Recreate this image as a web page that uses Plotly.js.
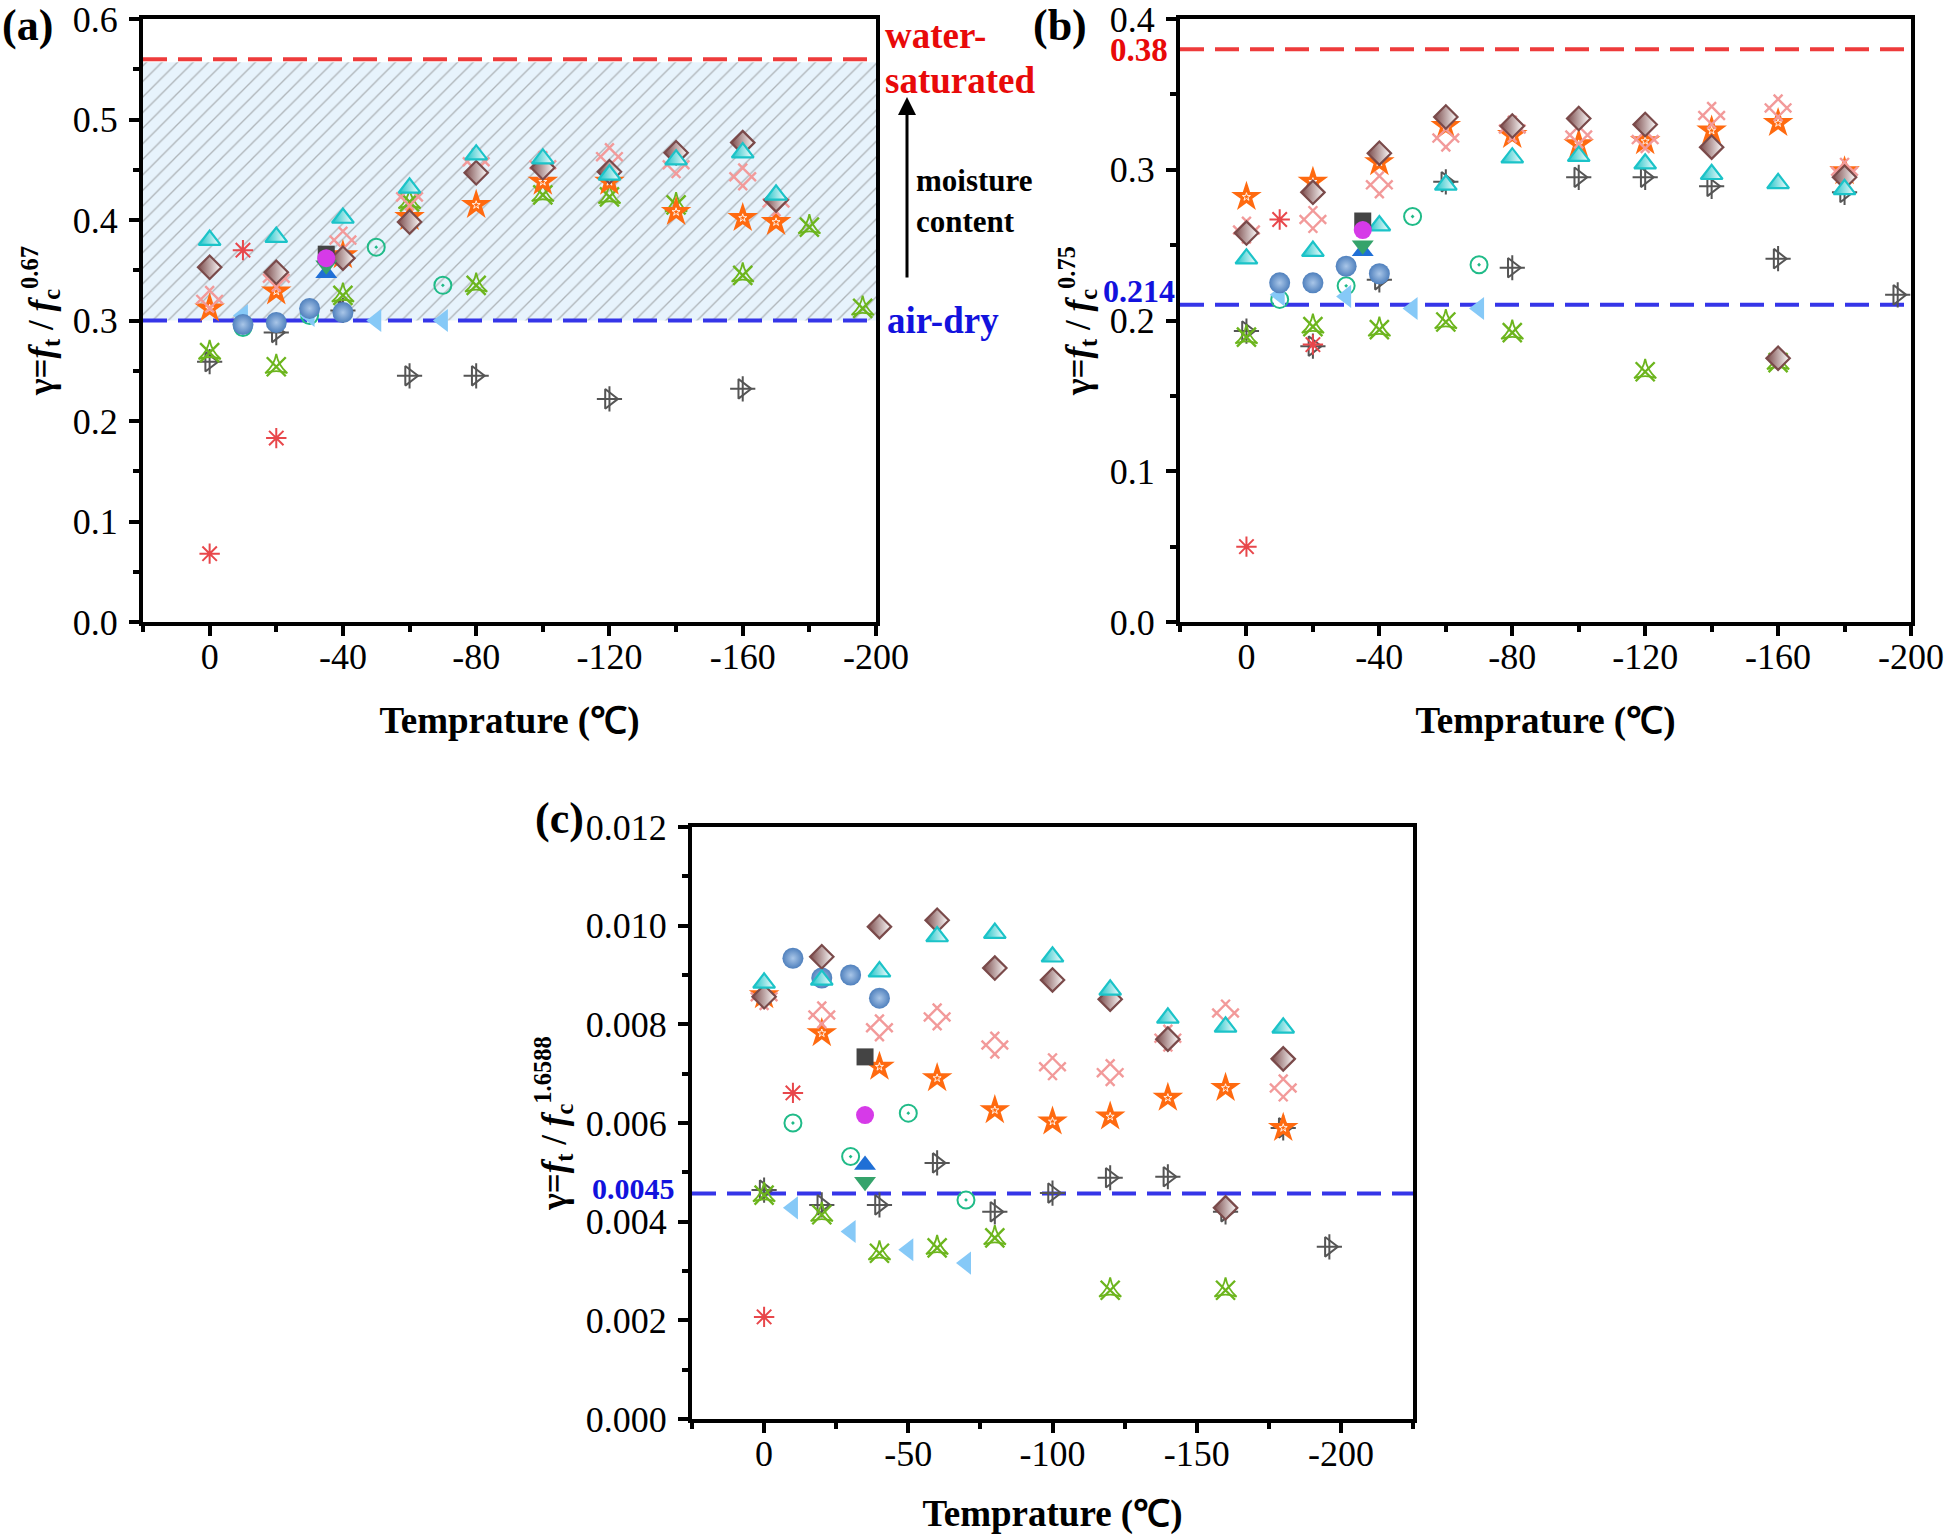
<!DOCTYPE html>
<html><head><meta charset="utf-8">
<script src="https://cdn.plot.ly/plotly-3.0.1.min.js"></script>
<style>html,body{margin:0;padding:0;background:#fff}</style>
</head><body><div id="chart" style="width:1945px;height:1535px"></div>
<script>
// ---------------- DATA ----------------
// Panel (a)  gamma = ft / fc^0.67
const a_redAst_x = [0, -10, -20];
const a_redAst_y = [0.068, 0.370, 0.183];
const a_main_x = [0, -20, -40, -60, -80, -100, -120, -140, -160, -170];
const a_cyanTri_y = [0.380, 0.383, 0.402, 0.432, 0.465, 0.461, 0.445, 0.460, 0.467, 0.425];
const a_brownDia_y = [0.353, 0.348, 0.362, 0.398, 0.447, 0.452, 0.448, 0.467, 0.477, 0.420];
const a_pinkHash_y = [0.321, 0.342, 0.380, 0.423, 0.458, 0.455, 0.463, 0.455, 0.443, 0.417];
const a_orangeStar_y = [0.312, 0.329, 0.365, 0.403, 0.415, 0.438, 0.438, 0.408, 0.402, 0.398];
const a_greenAst_x = [0, -20, -40, -60, -80, -100, -120, -140, -160, -180, -196];
const a_greenAst_y = [0.268, 0.254, 0.325, 0.418, 0.335, 0.425, 0.423, 0.415, 0.345, 0.393, 0.312];
const a_grayTri_x = [0, -20, -40, -60, -80, -120, -160];
const a_grayTri_y = [0.259, 0.288, 0.310, 0.245, 0.245, 0.222, 0.232];
const a_blueBall_x = [-10, -20, -30, -40];
const a_blueBall_y = [0.296, 0.298, 0.312, 0.308];
const a_lbTri_x = [-10, -30, -50, -70];
const a_lbTri_y = [0.305, 0.305, 0.300, 0.300];
const a_greenCirc_x = [-10, -30, -50, -70];
const a_greenCirc_y = [0.293, 0.305, 0.373, 0.335];
const a_single_x = [-35];
const a_darkSq_y = [0.366];
const a_magCirc_y = [0.362];
const a_greenTriDown_y = [0.355];
const a_blueTriUp_y = [0.347];
const a_waterSat = 0.56;
const a_airDry = 0.30;
const a_bandLow = 0.30, a_bandHigh = 0.557;

// Panel (b)  gamma = ft / fc^0.75
const b_redAst_x = [0, -10, -20];
const b_redAst_y = [0.050, 0.267, 0.184];
const b_main_x = [0, -20, -40, -60, -80, -100, -120, -140, -160, -180];
const b_cyanTri_y = [0.241, 0.246, 0.263, 0.290, 0.308, 0.309, 0.304, 0.297, 0.291, 0.287];
const b_brownDia_y = [0.258, 0.285, 0.311, 0.335, 0.329, 0.334, 0.330, 0.315, 0.175, 0.295];
const b_pinkHash_y = [0.260, 0.267, 0.290, 0.321, 0.327, 0.323, 0.320, 0.336, 0.341, 0.299];
const b_orangeStar_y = [0.282, 0.292, 0.305, 0.329, 0.323, 0.317, 0.319, 0.326, 0.331, 0.299];
const b_greenAst_x = [0, -20, -40, -60, -80, -120, -160];
const b_greenAst_y = [0.189, 0.196, 0.194, 0.199, 0.192, 0.166, 0.172];
const b_grayTri_x = [0, -20, -40, -60, -80, -100, -120, -140, -160, -180, -196];
const b_grayTri_y = [0.193, 0.183, 0.227, 0.292, 0.235, 0.295, 0.295, 0.289, 0.241, 0.285, 0.217];
const b_blueBall_x = [-10, -20, -30, -40];
const b_blueBall_y = [0.225, 0.225, 0.236, 0.231];
const b_lbTri_x = [-10, -30, -50, -70];
const b_lbTri_y = [0.217, 0.216, 0.208, 0.208];
const b_greenCirc_x = [-10, -30, -50, -70];
const b_greenCirc_y = [0.214, 0.223, 0.269, 0.237];
const b_single_x = [-35];
const b_darkSq_y = [0.266];
const b_magCirc_y = [0.260];
const b_greenTriDown_y = [0.250];
const b_blueTriUp_y = [0.246];
const b_upper = 0.38, b_upperLabel = '0.38';
const b_lower = 0.2105, b_lowerLabel = '0.214';

// Panel (c)  gamma = ft / fc^1.6588
const c_redAst_x = [0, -10];
const c_redAst_y = [0.00207, 0.00661];
const c_main_x = [0, -20, -40, -60, -80, -100, -120, -140, -160, -180];
const c_cyanTri_y = [0.00884, 0.00890, 0.00907, 0.00978, 0.00985, 0.00937, 0.00870, 0.00813, 0.00795, 0.00793];
const c_brownDia_y = [0.00856, 0.00937, 0.00998, 0.01011, 0.00914, 0.00890, 0.00851, 0.00770, 0.00428, 0.00730];
const c_pinkHash_y = [0.00856, 0.00819, 0.00793, 0.00815, 0.00758, 0.00714, 0.00702, 0.00772, 0.00823, 0.00671];
const c_orangeStar_y = [0.00859, 0.00782, 0.00714, 0.00691, 0.00626, 0.00603, 0.00613, 0.00651, 0.00671, 0.00590];
const c_greenAst_x = [0, -20, -40, -60, -80, -120, -160];
const c_greenAst_y = [0.00454, 0.00414, 0.00336, 0.00347, 0.00367, 0.00261, 0.00261];
const c_grayTri_x = [0, -20, -40, -60, -80, -100, -120, -140, -160, -180, -196];
const c_grayTri_y = [0.00464, 0.00434, 0.00434, 0.00519, 0.00420, 0.00458, 0.00489, 0.00491, 0.00420, 0.00590, 0.00349];
const c_blueBall_x = [-10, -20, -30, -40];
const c_blueBall_y = [0.00934, 0.00894, 0.00900, 0.00853];
const c_lbTri_x = [-10, -30, -50, -70];
const c_lbTri_y = [0.00428, 0.00380, 0.00343, 0.00316];
const c_greenCirc_x = [-10, -30, -50, -70];
const c_greenCirc_y = [0.00600, 0.00532, 0.00620, 0.00444];
const c_single_x = [-35];
const c_darkSq_y = [0.00734];
const c_magCirc_y = [0.00616];
const c_greenTriDown_y = [0.00481];
const c_blueTriUp_y = [0.00515];
const c_lower = 0.00457, c_lowerLabel = '0.0045';

// Axis ticks
const xTickVals_ab = [0, -40, -80, -120, -160, -200];
const xTickText_ab = ['0', '-40', '-80', '-120', '-160', '-200'];
const xTickVals_c = [0, -50, -100, -150, -200];
const xTickText_c = ['0', '-50', '-100', '-150', '-200'];
const xRange_ab = [20, -200];
const xRange_c = [25, -225];
const yRange_a = [0, 0.6];
const yRange_b = [0, 0.4];
const yRange_c = [0, 0.012];

// ---------------- STYLES ----------------
const FONT = 'Liberation Serif, Times New Roman, serif';
const W = 1945, H = 1535;
const px = v => v / W;
const py = v => 1 - v / H;

const ST = {
  grayTri: [
    {symbol: 'triangle-right-open', size: 17, color: '#555555', line: {color: '#555555', width: 2}},
    {symbol: 'cross-thin-open', size: 18, color: '#555555', line: {color: '#555555', width: 2}}
  ],
  greenAst: [
    {symbol: 'x-thin-open', size: 19, color: '#6cb51d', line: {color: '#6cb51d', width: 2.4}},
    {symbol: 'star-triangle-up-open', size: 16, color: '#6cb51d', line: {color: '#6cb51d', width: 1.8}}
  ],
  greenCirc: [
    {symbol: 'circle-open-dot', size: 17, color: '#20bb88', line: {color: '#20bb88', width: 2}}
  ],
  lbTri: [
    {symbol: 'triangle-left', size: 20, color: '#86c9f7', line: {width: 0}}
  ],
  blueBall: [
    {symbol: 'circle', size: 21, color: '#4f80bd', gradient: {type: 'radial', color: '#a9c6e8'}, line: {width: 0}}
  ],
  redAst: [
    {symbol: 'asterisk-open', size: 17, color: '#e8474b', line: {color: '#e8474b', width: 2}}
  ],
  orangeStar: [
    {symbol: 'star', size: 23, color: '#ff6a10', line: {width: 0}},
    {symbol: 'star-open', size: 6, color: '#ffffff', line: {color: '#ffffff', width: 0.9}}
  ],
  pinkHash: [
    {symbol: 'hash-open', angle: 45, size: 25, color: '#f29a9a', line: {color: '#f29a9a', width: 2.4}}
  ],
  brownDia: [
    {symbol: 'diamond', size: 18, color: '#7a4a4a', gradient: {type: 'horizontal', color: '#ffffff'}, line: {color: '#7a4a4a', width: 2.2}}
  ],
  cyanTri: [
    {symbol: 'triangle-up', size: 19, color: '#1bc3c8', gradient: {type: 'horizontal', color: '#ffffff'}, line: {color: '#1bc3c8', width: 2.2}}
  ],
  darkSq: [{symbol: 'square', size: 17, color: '#444444', line: {width: 0}}],
  magCirc: [{symbol: 'circle', size: 18, color: '#d63ae8', line: {width: 0}}],
  blueTriUp: [{symbol: 'triangle-up', size: 19, color: '#1f6fd6', line: {width: 0}}],
  greenTriDown: [{symbol: 'triangle-down', size: 19, color: '#35a36b', line: {width: 0}}]
};

const traces = [];
function series(xs, ys, sfx, key) {
  ST[key].forEach(m => {
    traces.push({type: 'scatter', mode: 'markers', x: xs, y: ys,
      xaxis: 'x' + sfx, yaxis: 'y' + sfx, marker: m, hoverinfo: 'skip',
      showlegend: false, cliponaxis: false});
  });
}
function hline(range, val, sfx, color) {
  traces.push({type: 'scatter', mode: 'lines', x: [range[0], range[1]], y: [val, val],
    xaxis: 'x' + sfx, yaxis: 'y' + sfx, line: {color: color, width: 4, dash: '24px,11px'},
    hoverinfo: 'skip', showlegend: false});
}

// Panel (a) shaded band
traces.push({type: 'scatter', mode: 'lines', xaxis: 'x', yaxis: 'y',
  x: [xRange_ab[0], xRange_ab[1], xRange_ab[1], xRange_ab[0], xRange_ab[0]],
  y: [a_bandLow, a_bandLow, a_bandHigh, a_bandHigh, a_bandLow],
  fill: 'toself', fillcolor: '#e7f3fc', line: {width: 0},
  fillpattern: {shape: '/', bgcolor: '#e7f3fc', fgcolor: '#aeb4b8', size: 11, solidity: 0.12},
  hoverinfo: 'skip', showlegend: false});
hline(xRange_ab, a_waterSat, '', '#ee3b3b');
hline(xRange_ab, a_airDry, '', '#3535e8');
hline(xRange_ab, b_upper, '2', '#ee3b3b');
hline(xRange_ab, b_lower, '2', '#3535e8');
hline(xRange_c, c_lower, '3', '#3535e8');

function panel(sfx, d) {
  series(d.grayTri_x, d.grayTri_y, sfx, 'grayTri');
  series(d.greenAst_x, d.greenAst_y, sfx, 'greenAst');
  series(d.greenCirc_x, d.greenCirc_y, sfx, 'greenCirc');
  series(d.lbTri_x, d.lbTri_y, sfx, 'lbTri');
  series(d.blueBall_x, d.blueBall_y, sfx, 'blueBall');
  series(d.redAst_x, d.redAst_y, sfx, 'redAst');
  series(d.main_x, d.orangeStar_y, sfx, 'orangeStar');
  series(d.main_x, d.pinkHash_y, sfx, 'pinkHash');
  series(d.main_x, d.brownDia_y, sfx, 'brownDia');
  series(d.main_x, d.cyanTri_y, sfx, 'cyanTri');
  series(d.single_x, d.blueTriUp_y, sfx, 'blueTriUp');
  series(d.single_x, d.greenTriDown_y, sfx, 'greenTriDown');
  series(d.single_x, d.darkSq_y, sfx, 'darkSq');
  series(d.single_x, d.magCirc_y, sfx, 'magCirc');
}
panel('', {grayTri_x: a_grayTri_x, grayTri_y: a_grayTri_y, greenAst_x: a_greenAst_x, greenAst_y: a_greenAst_y,
  greenCirc_x: a_greenCirc_x, greenCirc_y: a_greenCirc_y, lbTri_x: a_lbTri_x, lbTri_y: a_lbTri_y,
  blueBall_x: a_blueBall_x, blueBall_y: a_blueBall_y, redAst_x: a_redAst_x, redAst_y: a_redAst_y,
  main_x: a_main_x, orangeStar_y: a_orangeStar_y, pinkHash_y: a_pinkHash_y, brownDia_y: a_brownDia_y,
  cyanTri_y: a_cyanTri_y, single_x: a_single_x, blueTriUp_y: a_blueTriUp_y, greenTriDown_y: a_greenTriDown_y,
  darkSq_y: a_darkSq_y, magCirc_y: a_magCirc_y});
panel('2', {grayTri_x: b_grayTri_x, grayTri_y: b_grayTri_y, greenAst_x: b_greenAst_x, greenAst_y: b_greenAst_y,
  greenCirc_x: b_greenCirc_x, greenCirc_y: b_greenCirc_y, lbTri_x: b_lbTri_x, lbTri_y: b_lbTri_y,
  blueBall_x: b_blueBall_x, blueBall_y: b_blueBall_y, redAst_x: b_redAst_x, redAst_y: b_redAst_y,
  main_x: b_main_x, orangeStar_y: b_orangeStar_y, pinkHash_y: b_pinkHash_y, brownDia_y: b_brownDia_y,
  cyanTri_y: b_cyanTri_y, single_x: b_single_x, blueTriUp_y: b_blueTriUp_y, greenTriDown_y: b_greenTriDown_y,
  darkSq_y: b_darkSq_y, magCirc_y: b_magCirc_y});
panel('3', {grayTri_x: c_grayTri_x, grayTri_y: c_grayTri_y, greenAst_x: c_greenAst_x, greenAst_y: c_greenAst_y,
  greenCirc_x: c_greenCirc_x, greenCirc_y: c_greenCirc_y, lbTri_x: c_lbTri_x, lbTri_y: c_lbTri_y,
  blueBall_x: c_blueBall_x, blueBall_y: c_blueBall_y, redAst_x: c_redAst_x, redAst_y: c_redAst_y,
  main_x: c_main_x, orangeStar_y: c_orangeStar_y, pinkHash_y: c_pinkHash_y, brownDia_y: c_brownDia_y,
  cyanTri_y: c_cyanTri_y, single_x: c_single_x, blueTriUp_y: c_blueTriUp_y, greenTriDown_y: c_greenTriDown_y,
  darkSq_y: c_darkSq_y, magCirc_y: c_magCirc_y});

// ---------------- AXES ----------------
const tickFont = {family: FONT, size: 36, color: '#000'};
const xTitleFont = {family: FONT, size: 37, color: '#000', weight: 'bold'};
const yTitleFont = {family: FONT, size: 35, color: '#000', weight: 'bold'};
function xAxis(domain, anchor, range, vals, text, minorD) {
  return {domain: domain, anchor: anchor, range: range, tickmode: 'array', tickvals: vals, ticktext: text,
    ticks: 'outside', ticklen: 10, tickwidth: 4, tickcolor: '#000', showline: true, linewidth: 4, linecolor: '#000',
    mirror: true, showgrid: false, zeroline: false, tickfont: tickFont, ticklabelstandoff: -10,
    ticklabeloverflow: 'allow',
    minor: {ticks: 'outside', ticklen: 6, tickwidth: 4, tickcolor: '#000', tickmode: 'linear', tick0: 0, dtick: minorD, showgrid: false},
    title: {text: '<b>Temprature (℃)</b>', font: xTitleFont, standoff: 32}};
}
function yAxis(domain, anchor, range, dtick, fmt, minorD, title) {
  return {domain: domain, anchor: anchor, range: range, tickmode: 'linear', tick0: 0, dtick: dtick, tickformat: fmt,
    ticks: 'outside', ticklen: 10, tickwidth: 4, tickcolor: '#000', showline: true, linewidth: 4, linecolor: '#000',
    mirror: true, showgrid: false, zeroline: false, tickfont: tickFont, ticklabelstandoff: 4,
    ticklabeloverflow: 'allow',
    minor: {ticks: 'outside', ticklen: 6, tickwidth: 4, tickcolor: '#000', tickmode: 'linear', tick0: 0, dtick: minorD, showgrid: false},
    title: {text: title, font: yTitleFont, standoff: 10}};
}
const yTitle = e => '<b>γ=<i>f</i><sub>t</sub> / <i>f</i><sub>c</sub><sup>' + e + '</sup></b>';

const domAx = [px(143), px(876)], domBx = [px(1180), px(1911)], domCx = [px(692), px(1413)];
const domABy = [py(622), py(19)], domCy = [py(1419), py(827)];

const ann = [];
function txt(t, x, y, size, color, xanchor) {
  ann.push({text: t, x: px(x), y: py(y), xref: 'paper', yref: 'paper', showarrow: false,
    xanchor: xanchor || 'left', yanchor: 'middle', font: {family: FONT, size: size, color: color, weight: 'bold'}});
}
txt('(a)', 27, 25, 44, '#000', 'center');
txt('(b)', 1060, 25, 44, '#000', 'center');
txt('(c)', 559, 818, 44, '#000', 'center');
txt('water-', 883, 35, 37, '#e80a0a');
txt('saturated', 883, 80, 37, '#e80a0a');
txt('air-dry', 885, 320, 37, '#1212dd');
txt('moisture', 914, 181, 31, '#000');
txt('content', 914, 221, 31, '#000');
txt(b_upperLabel, 1170, 50, 33, '#e80a0a', 'right');
txt(b_lowerLabel, 1177, 291, 32, '#1212dd', 'right');
txt(c_lowerLabel, 677, 1188, 30, '#1212dd', 'right');
ann.push({text: '', xref: 'paper', yref: 'paper', axref: 'paper', ayref: 'paper',
  x: px(907), y: py(97), ax: px(907), ay: py(279), showarrow: true, arrowhead: 2, arrowsize: 1.2,
  arrowwidth: 3, arrowcolor: '#000'});

const layout = {
  width: W, height: H, margin: {l: 0, r: 0, t: 0, b: 0},
  paper_bgcolor: '#fff', plot_bgcolor: '#fff', showlegend: false, hovermode: false,
  font: {family: FONT, color: '#000'},
  xaxis: xAxis(domAx, 'y', xRange_ab, xTickVals_ab, xTickText_ab, 20),
  yaxis: yAxis(domABy, 'x', yRange_a, 0.1, '.1f', 0.05, yTitle('0.67')),
  xaxis2: xAxis(domBx, 'y2', xRange_ab, xTickVals_ab, xTickText_ab, 20),
  yaxis2: yAxis(domABy, 'x2', yRange_b, 0.1, '.1f', 0.05, yTitle('0.75')),
  xaxis3: xAxis(domCx, 'y3', xRange_c, xTickVals_c, xTickText_c, 25),
  yaxis3: yAxis(domCy, 'x3', yRange_c, 0.002, '.3f', 0.001, yTitle('1.6588')),
  annotations: ann
};
Plotly.newPlot('chart', traces, layout, {displayModeBar: false, staticPlot: true});
</script></body></html>
